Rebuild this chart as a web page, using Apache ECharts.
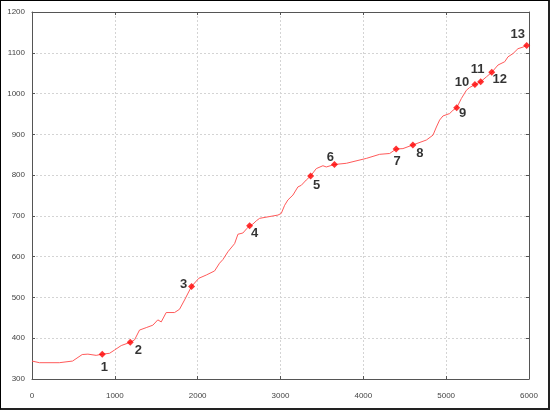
<!DOCTYPE html>
<html>
<head>
<meta charset="utf-8">
<script src="https://cdn.jsdelivr.net/npm/echarts@6/dist/echarts.min.js"></script>
<style>
	html, body { margin: 0; padding: 0; background: #fff; }
	#chart { position: absolute; left: 0; top: 0; width: 550px; height: 410px; }
	#frame {
		position: absolute; left: 0; top: 0; width: 550px; height: 410px;
		box-sizing: border-box; pointer-events: none;
		border-left: 1px solid #000; border-top: 1px solid #000;
		border-right: 2px solid #222; border-bottom: 2px solid #222;
	}
</style>
</head>
<body>
<div id="chart"></div>
<div id="frame"></div>
<script>
	'use strict';

	// profile (distance, elevation)
	var profileX = [0, 90, 330, 490, 606, 675, 775, 848, 936, 996, 1077, 1186, 1238, 1298, 1379, 1459,
		1519, 1560, 1620, 1721, 1781, 1842, 1926, 2014, 2104, 2204, 2264, 2305, 2365, 2446, 2486, 2546,
		2594, 2627, 2667, 2708, 2748, 2969, 3009, 3050, 3089, 3150, 3210, 3251, 3311, 3364, 3432, 3512,
		3553, 3651, 3795, 4036, 4197, 4318, 4396, 4478, 4598, 4761, 4841, 4882, 4921, 4961, 5042, 5082,
		5127, 5184, 5244, 5284, 5347, 5417, 5486, 5550, 5626, 5707, 5746, 5807, 5867, 5928, 5972];
	var profileY = [344, 340, 340, 344, 360, 361, 358, 361, 363, 371, 382, 390, 396, 420, 426, 432,
		445, 440, 463, 463, 471, 494, 527, 547, 555, 565, 584, 593, 612, 632, 655, 658,
		669, 676, 680, 688, 694, 702, 706, 726, 739, 751, 771, 775, 788, 798, 816, 823,
		820, 826, 829, 841, 851, 853, 864, 865, 874, 886, 898, 918, 935, 945, 951, 959,
		965, 988, 1008, 1015, 1022, 1029, 1041, 1052, 1070, 1078, 1090, 1098, 1110, 1114, 1118];

	// numbered waypoints
	var markerNames = ["1", "2", "3", "4", "5", "6", "7", "8", "9", "10", "11", "12", "13"];
	var markerX = [848, 1186, 1926, 2627, 3364, 3651, 4396, 4598, 5127, 5347, 5417, 5550, 5972];
	var markerY = [361, 390, 527, 676, 798, 826, 864, 874, 965, 1022, 1029, 1052, 1118];

	var xTicks = { min: 0, max: 6000, step: 1000 };
	var yTicks = { min: 300, max: 1200, step: 100 };

	// where each number sits around its marker (px)
	var labelOffsets = [[2, 13], [8, 8], [-8, -2], [5, 8], [6, 9], [-4, -7], [1, 12],
		[7, 8], [6, 6], [-13, -2], [-3, -12], [8, 7], [-9, -11]];

	var axisColor = "#555";
	var font = "'Liberation Sans', Arial, sans-serif";

	var line = [];
	for (var i = 0; i < profileX.length; i++) {
		line.push([profileX[i], profileY[i]]);
	}

	var points = [];
	for (var j = 0; j < markerX.length; j++) {
		points.push({
			name: markerNames[j],
			value: [markerX[j], markerY[j]],
			label: { offset: labelOffsets[j] }
		});
	}

	var splitLine = { show: true, lineStyle: { color: "#d4d4d4", type: [2, 2], width: 1 } };

	var makeAxis = function(t, pos, main) {
		return {
			type: "value",
			position: pos,
			min: t.min,
			max: t.max,
			interval: t.step,
			axisLine: { show: true, onZero: false, lineStyle: { color: axisColor, width: 1 } },
			axisTick: { show: true, inside: true, length: 3, lineStyle: { color: axisColor } },
			axisLabel: {
				show: main,
				color: "#444",
				fontSize: 8,
				fontFamily: font,
				margin: (pos === "bottom") ? 13 : 7,
				formatter: function(v) { return String(v); }
			},
			splitLine: main ? splitLine : { show: false }
		};
	};

	var chart = echarts.init(document.getElementById("chart"), null, { renderer: "canvas" });
	chart.setOption({
		animation: false,
		backgroundColor: "#fff",
		grid: { left: 32, right: 21, top: 12, bottom: 31 },
		xAxis: [makeAxis(xTicks, "bottom", true), makeAxis(xTicks, "top", false)],
		yAxis: [makeAxis(yTicks, "left", true), makeAxis(yTicks, "right", false)],
		series: [{
			type: "line",
			data: line,
			showSymbol: false,
			smooth: false,
			lineStyle: { color: "#ff5a5a", width: 1 },
			z: 2
		}, {
			type: "scatter",
			data: points,
			symbol: "diamond",
			symbolSize: 7,
			itemStyle: { color: "#ff0000" },
			label: {
				show: true,
				position: "inside",
				formatter: "{b}",
				color: "#000",
				fontSize: 13,
				fontWeight: "bold",
				fontFamily: font,
				align: "center",
				verticalAlign: "middle",
				textBorderWidth: 0
			},
			z: 3
		}]
	});
</script>
</body>
</html>
